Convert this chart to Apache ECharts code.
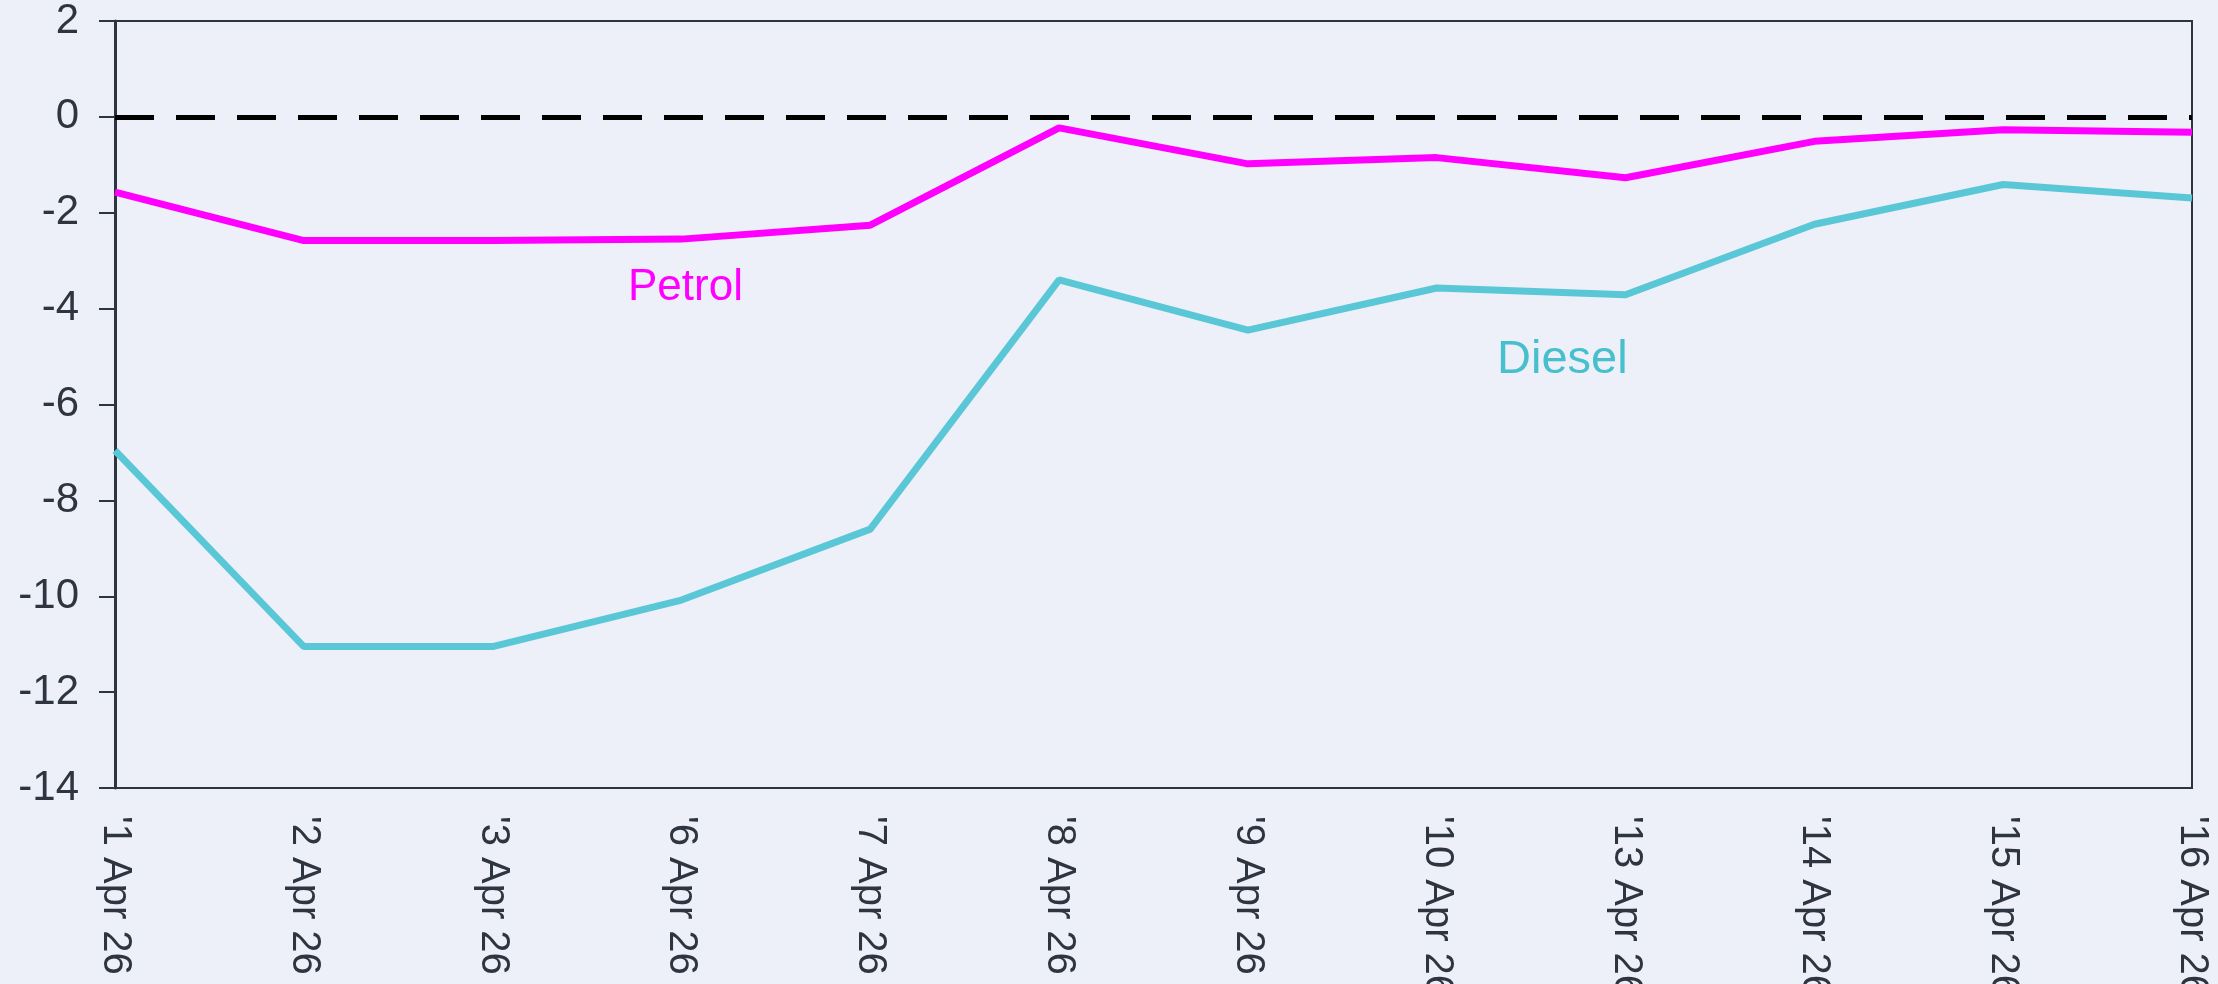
<!DOCTYPE html>
<html lang="en">
<head>
  <meta charset="UTF-8">
  <title>Petrol and Diesel</title>
  <script src="https://cdn.jsdelivr.net/npm/echarts@6/dist/echarts.min.js"></script>
  <style>
    html, body { margin: 0; padding: 0; background: #edf0f9; }
    #chart { width: 2218px; height: 984px; }
  </style>
</head>
<body>
<div id="chart"></div>
<script>
  const days = ["'1 Apr 26", "'2 Apr 26", "'3 Apr 26", "'6 Apr 26", "'7 Apr 26", "'8 Apr 26",
    "'9 Apr 26", "'10 Apr 26", "'13 Apr 26", "'14 Apr 26", "'15 Apr 26", "'16 Apr 26"];
  const petrol = [-1.57, -2.58, -2.58, -2.55, -2.26, -0.23, -0.98, -0.85, -1.27, -0.51, -0.27, -0.32];
  const diesel = [-6.96, -11.05, -11.05, -10.08, -8.6, -3.4, -4.45, -3.57, -3.71, -2.24, -1.41, -1.69];

  const axisColor = '#2e3440';
  const font = 'Liberation Sans';

  const chart = echarts.init(document.getElementById('chart'));
  chart.setOption({
    animation: false,
    backgroundColor: '#edf0f9',
    textStyle: { fontFamily: font },
    grid: {
      left: 115, right: 26, top: 21, bottom: 196,
      containLabel: false, outerBoundsMode: 'none',
      show: true, borderColor: axisColor, borderWidth: 2, backgroundColor: 'transparent'
    },
    xAxis: {
      type: 'category',
      data: days,
      boundaryGap: false,
      axisLine: { onZero: false, lineStyle: { color: axisColor, width: 2 } },
      axisTick: { show: false },
      axisLabel: {
        rotate: -90, margin: 28, fontSize: 40, color: axisColor, fontFamily: font,
        interval: 0
      },
      splitLine: { show: false }
    },
    yAxis: {
      type: 'value',
      min: -14, max: 2, interval: 2,
      axisLine: { show: true, lineStyle: { color: axisColor, width: 3 } },
      axisTick: { show: true, length: 16, lineStyle: { color: axisColor, width: 2 } },
      axisLabel: { margin: 36, fontSize: 42, color: axisColor, fontFamily: font },
      splitLine: { show: false }
    },
    series: [
      {
        name: 'Petrol',
        type: 'line',
        data: petrol,
        symbol: 'none',
        lineStyle: { color: '#ff00ff', width: 7 },
        markLine: {
          silent: true,
          symbol: 'none',
          label: { show: false },
          lineStyle: { color: '#000000', width: 5, type: [39, 22] },
          data: [{ yAxis: 0 }]
        }
      },
      {
        name: 'Diesel',
        type: 'line',
        data: diesel,
        symbol: 'none',
        lineStyle: { color: '#5ac7d6', width: 7 }
      }
    ],
    graphic: [
      {
        type: 'text', left: 628, top: 266,
        style: { text: 'Petrol', fontSize: 44, fill: '#ff00ff', fontFamily: font }
      },
      {
        type: 'text', left: 1497, top: 337,
        style: { text: 'Diesel', fontSize: 47, fill: '#47bfcc', fontFamily: font }
      }
    ]
  });
</script>
</body>
</html>
